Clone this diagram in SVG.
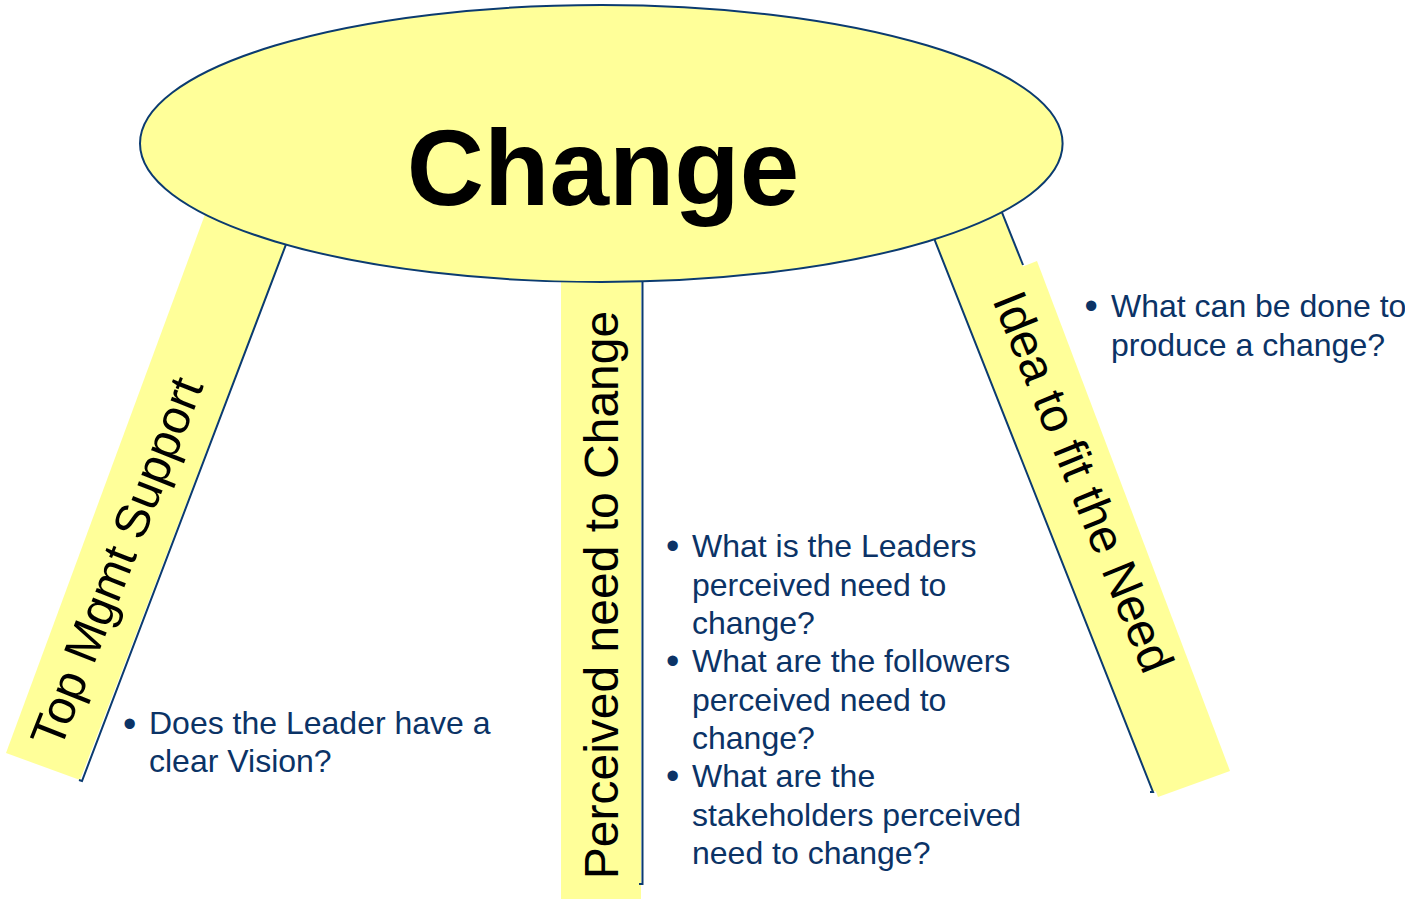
<svg xmlns="http://www.w3.org/2000/svg" width="1405" height="899" viewBox="0 0 1405 899">
<style>
.leg{fill:#FFFF99;stroke:none}
.edge{fill:none;stroke:#0B3B70;stroke-width:2}
.lbl{font-family:"Liberation Sans",Arial,sans-serif;font-size:48px;fill:#000}
.bul{font-family:"Liberation Sans",Arial,sans-serif;font-size:32px;fill:#0B3366}
.dot{font-family:"Liberation Sans",Arial,sans-serif;font-size:38px;fill:#0B3366}
</style>
<rect width="1405" height="899" fill="#fff"/>
<g id="leg-left">
<polygon class="leg" points="6,753 80,780 310.5,180 217.7,180"/>
<path class="edge" d="M310.5,180 L82,781 L79,780"/>
<text class="lbl" transform="translate(132,568) rotate(-68.5)" text-anchor="middle">Top Mgmt Support</text>
</g>
<g id="leg-middle">
<rect class="leg" x="561" y="200" width="80" height="699"/>
<path class="edge" d="M642.5,200 L642.5,884 L639,884"/>
<text class="lbl" transform="translate(618,595) rotate(-90)" text-anchor="middle">Perceived need to Change</text>
</g>
<g id="leg-right">
<polygon class="leg" points="907,170 977,150 1220,766 1153,792"/>
<path class="edge" d="M907,170 L1153,792 L1150,792"/>
<path class="edge" d="M977,150 L1023,265"/>
<polygon class="leg" points="1037,261 1230,771 1158,797 965,289"/>
<text class="lbl" transform="translate(1068,488) rotate(68)" text-anchor="middle">Idea to fit the Need</text>
</g>
<g id="change">
<ellipse cx="601.3" cy="143.5" rx="461.3" ry="138.5" fill="#FFFF99" stroke="#0B3B70" stroke-width="2"/>
<text x="603" y="205" text-anchor="middle" font-family="'Liberation Sans',Arial,sans-serif" font-weight="bold" font-size="107" fill="#000">Change</text>
</g>
<g id="notes-left">
<text class="dot" x="123" y="736.5">•</text>
<text class="bul" x="149" y="733.5">Does the Leader have a</text>
<text class="bul" x="149" y="772">clear Vision?</text>
</g>
<g id="notes-middle">
<text class="dot" x="666" y="558.5">•</text>
<text class="bul" x="692" y="557">What is the Leaders</text>
<text class="bul" x="692" y="595.5">perceived need to</text>
<text class="bul" x="692" y="634">change?</text>
<text class="dot" x="666" y="673.5">•</text>
<text class="bul" x="692" y="672">What are the followers</text>
<text class="bul" x="692" y="710.5">perceived need to</text>
<text class="bul" x="692" y="749">change?</text>
<text class="dot" x="666" y="788.5">•</text>
<text class="bul" x="692" y="787">What are the</text>
<text class="bul" x="692" y="825.5">stakeholders perceived</text>
<text class="bul" x="692" y="864">need to change?</text>
</g>
<g id="notes-right">
<text class="dot" x="1084.5" y="318.5">•</text>
<text class="bul" x="1111" y="317">What can be done to</text>
<text class="bul" x="1111" y="355.5">produce a change?</text>
</g>
</svg>
